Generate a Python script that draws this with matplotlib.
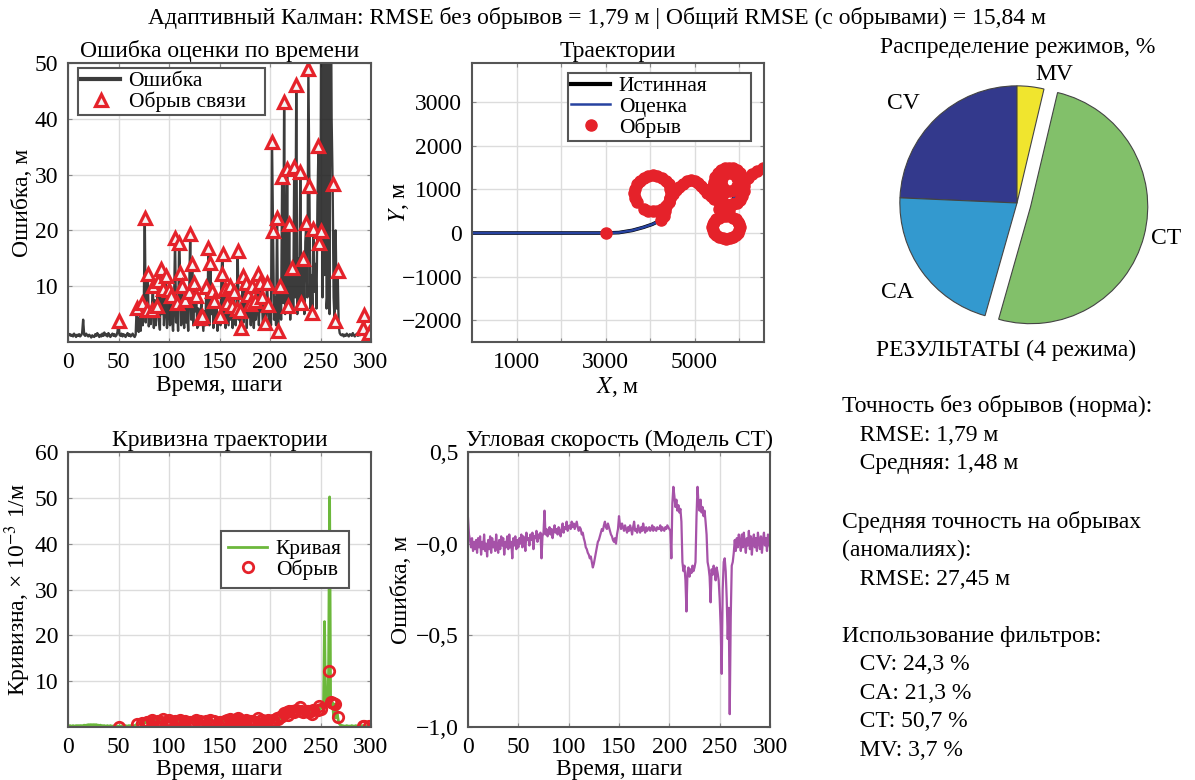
import matplotlib
matplotlib.use('Agg')
import matplotlib.pyplot as plt
import numpy as np

plt.rcParams['font.family'] = ['Liberation Serif', 'DejaVu Serif']
plt.rcParams['mathtext.fontset'] = 'stix'
plt.rcParams['font.size'] = 17

# ---- данные ----
steps = np.arange(301)

err = [
    1.6, 1.2, 1.4, 1.1, 1.3, 1.0, 1.5, 1.2, 0.9, 1.3,
    1.1, 1.4, 1.0, 1.2, 1.6, 4.0, 1.3, 1.1, 1.5, 1.2,
    1.0, 1.3, 1.1, 0.8, 1.2, 1.0, 0.9, 1.4, 1.1, 1.6,
    1.2, 0.9, 1.3, 1.0, 1.5, 1.1, 1.7, 1.2, 1.4, 1.0,
    1.6, 1.2, 0.9, 1.3, 1.5, 1.1, 1.4, 1.0, 1.2, 1.8,
    3.7, 1.3, 1.1, 1.5, 1.0, 1.4, 1.2, 0.9, 1.3, 1.6,
    1.1, 1.4, 1.0, 1.2, 1.5, 1.1, 0.9, 1.3, 6.1, 2.5,
    1.8, 4.5, 2.0, 7.0, 3.0, 5.5, 22.3, 3.5, 5.8, 12.1,
    2.8, 6.0, 3.2, 5.8, 10.0, 2.5, 7.5, 3.0, 6.4, 10.9,
    4.0, 2.2, 13.0, 5.0, 9.5, 3.0, 6.0, 11.8, 2.5, 5.5,
    9.4, 3.0, 8.2, 4.5, 2.0, 6.5, 18.7, 3.5, 7.0, 2.0,
    17.8, 12.4, 3.0, 10.0, 5.0, 2.5, 7.5, 3.5, 6.0, 2.0,
    9.0, 19.3, 4.0, 13.9, 3.0, 10.6, 5.5, 8.2, 2.5, 6.0,
    3.0, 4.3, 7.0, 4.6, 2.0, 5.5, 3.0, 9.8, 4.0, 16.9,
    3.0, 14.2, 5.0, 9.1, 2.5, 7.3, 4.0, 6.5, 2.0, 5.0,
    4.6, 3.0, 12.1, 15.7, 4.5, 9.5, 2.5, 7.0, 5.0, 3.0,
    10.0, 4.0, 6.5, 2.5, 9.0, 5.0, 3.0, 6.0, 16.3, 4.0,
    5.5, 2.5, 6.0, 11.8, 3.5, 7.0, 10.6, 2.5, 8.5, 4.5,
    6.8, 3.0, 10.0, 5.0, 2.5, 7.3, 4.0, 6.0, 12.1, 3.0,
    10.6, 5.5, 8.0, 2.5, 6.5, 3.4, 4.5, 10.6, 6.7, 3.0,
    5.0, 3.0, 35.8, 19.9, 4.0, 8.0, 3.0, 22.3, 1.9, 6.0,
    10.0, 4.0, 29.5, 7.0, 43.0, 5.0, 9.0, 31.0, 6.4, 21.1,
    4.0, 12.0, 13.3, 6.0, 31.3, 8.0, 46.0, 5.0, 15.0, 7.0,
    30.4, 7.0, 10.0, 14.8, 5.0, 18.0, 21.4, 8.0, 49.0, 28.0,
    6.0, 12.0, 5.2, 20.2, 9.0, 14.0, 6.0, 25.0, 35.2, 17.8,
    19.9, 80.0, 8.0, 95.0, 12.0, 90.0, 6.0, 9.0, 88.0, 5.0,
    75.0, 40.0, 28.3, 8.0, 3.7, 20.0, 6.0, 12.7, 3.0, 1.6,
    1.3, 1.2, 1.4, 1.0, 1.3, 1.1, 1.5, 1.2, 1.0, 1.4,
    1.3, 1.1, 1.6, 1.2, 1.0, 1.3, 1.5, 1.1, 1.4, 1.2,
    1.7, 1.3, 2.5, 4.9, 1.5, 2.0, 1.2, 1.4, 1.6, 1.1,
    1.3,
]

outage_steps = [
    50, 68, 73, 76, 78, 79, 83, 84, 88, 89, 92, 94, 97, 100, 102, 106, 108,
    110, 111, 113, 116, 120, 121, 123, 125, 127, 131, 133, 137, 139, 141, 143,
    145, 150, 152, 153, 155, 157, 160, 162, 164, 167, 168, 170, 171, 173, 176,
    178, 180, 182, 185, 188, 190, 192, 195, 197, 198, 202, 203, 207, 208, 210,
    212, 214, 217, 218, 219, 222, 224, 226, 230, 231, 233, 236, 238, 239, 242,
    243, 248, 249, 250, 258, 260, 262, 264, 267, 292, 293, 298,
]

# кривизна, x 10^-3 1/м
curv = [
    0.2, 0.2, 0.3, 0.2, 0.2, 0.3, 0.2, 0.2, 0.3, 0.2,
    0.3, 0.2, 0.3, 0.3, 0.2, 0.3, 0.4, 0.3, 0.4, 0.4,
    0.5, 0.4, 0.5, 0.5, 0.4, 0.5, 0.5, 0.4, 0.5, 0.4,
    0.4, 0.3, 0.4, 0.3, 0.3, 0.2, 0.3, 0.2, 0.2, 0.3,
    0.2, 0.2, 0.3, 0.2, 0.2, 0.2, 0.3, 0.2, 0.2, 0.2,
    0.1, 0.2, 0.2, 0.2, 0.3, 0.2, 0.2, 0.3, 0.2, 0.2,
    0.3, 0.2, 0.3, 0.2, 0.2, 0.3, 0.3, 0.4, 0.6, 0.8,
    0.7, 0.9, 1.1, 0.8, 1.0, 1.2, 0.9, 1.3, 1.0, 1.1,
    1.4, 1.0, 1.2, 1.5, 1.1, 1.3, 1.6, 1.2, 1.0, 1.4,
    1.2, 1.5, 1.1, 1.3, 1.7, 1.2, 1.4, 1.0, 1.6, 1.8,
    1.5, 1.2, 1.0, 1.3, 0.9, 1.1, 1.4, 1.0, 1.2, 0.8,
    1.3, 1.6, 1.1, 1.4, 1.2, 0.9, 1.3, 1.0, 1.5, 1.1,
    0.8, 1.2, 0.9, 1.1, 1.4, 1.0, 1.3, 1.6, 1.2, 1.4,
    1.0, 1.3, 1.5, 1.1, 0.9, 1.2, 1.0, 1.4, 1.1, 0.8,
    1.2, 1.5, 1.1, 1.3, 1.0, 1.4, 1.6, 1.2, 1.0, 1.3,
    1.1, 1.4, 1.2, 1.0, 1.5, 1.3, 1.1, 1.6, 1.2, 1.4,
    1.8, 1.3, 1.5, 1.2, 1.6, 1.4, 1.1, 1.7, 1.9, 1.3,
    1.5, 1.2, 1.6, 1.4, 1.8, 1.3, 1.5, 1.7, 1.2, 1.6,
    1.4, 1.8, 1.3, 1.5, 1.7, 1.2, 1.6, 1.4, 1.9, 1.5,
    1.3, 1.7, 1.5, 1.2, 1.6, 1.4, 1.8, 1.3, 1.5, 1.7,
    1.4, 1.6, 1.3, 1.5, 1.8, 1.6, 1.4, 2.0, 1.7, 1.5,
    2.2, 1.8, 2.5, 1.6, 3.0, 2.4, 2.0, 3.2, 2.6, 3.5,
    2.8, 4.0, 3.6, 4.4, 3.2, 4.2, 3.8, 4.5, 3.4, 3.0,
    4.3, 3.6, 2.8, 3.2, 2.6, 3.0, 3.4, 2.8, 3.6, 3.2,
    3.0, 3.5, 2.9, 3.8, 3.3, 4.0, 3.5, 4.2, 3.8, 4.5,
    4.0, 4.8, 4.4, 5.0, 23.0, 4.6, 5.2, 4.9, 12.2, 50.2,
    5.4, 4.8, 5.3, 2.2, 5.0, 2.0, 5.1, 2.2, 1.0, 0.6,
    0.4, 0.3, 0.3, 0.2, 0.2, 0.2, 0.3, 0.2, 0.2, 0.2,
    0.2, 0.3, 0.2, 0.2, 0.2, 0.3, 0.2, 0.2, 0.2, 0.2,
    0.3, 0.2, 0.3, 0.3, 0.2, 0.3, 0.2, 0.3, 0.2, 0.2,
    0.2,
]

# угловая скорость (модель CT)
omega = [
    0.14, 0.05, 0.02, -0.02, 0.03, -0.04, 0.01, -0.03, 0.02, -0.05,
    0.03, -0.02, 0.04, -0.06, 0.01, -0.03, 0.05, -0.04, 0.00, -0.07,
    0.02, -0.03, 0.04, -0.05, 0.03, -0.02, 0.01, -0.04, 0.05, -0.02,
    -0.05, 0.02, -0.03, 0.04, -0.01, 0.03, -0.06, 0.01, -0.02, 0.04,
    -0.03, 0.05, -0.02, 0.01, -0.08, 0.03, -0.01, 0.04, -0.03, 0.02,
    -0.02, 0.03, 0.00, 0.05, -0.02, 0.04, 0.01, -0.04, 0.06, 0.02,
    0.03, -0.01, 0.05, 0.02, 0.06, -0.03, 0.04, 0.03, 0.07, 0.01,
    0.05, 0.03, 0.06, -0.08, 0.04, 0.06, 0.18, 0.05, 0.08, 0.04,
    0.06, 0.09, 0.05, 0.08, 0.03, 0.07, 0.10, 0.06, 0.08, 0.05,
    0.09, 0.07, 0.04, 0.08, 0.11, 0.06, 0.09, 0.08, 0.12, 0.07,
    0.09, 0.10, 0.08, 0.12, 0.09, 0.11, 0.08, 0.10, 0.12, 0.09,
    0.07, 0.09, 0.08, 0.05, 0.06, 0.03, 0.01, -0.02, -0.03, -0.05,
    -0.06, -0.08, -0.07, -0.10, -0.13, -0.11, -0.08, -0.05, -0.02, 0.01,
    0.02, 0.04, 0.06, 0.08, 0.07, 0.10, 0.12, 0.09, 0.08, 0.11,
    0.09, 0.07, 0.05, 0.04, 0.02, 0.01, 0.03, 0.00, 0.05, 0.08,
    0.15, 0.10, 0.08, 0.11, 0.09, 0.07, 0.10, 0.08, 0.06, 0.09,
    0.07, 0.10, 0.08, 0.05, 0.09, 0.12, 0.07, 0.08, 0.06, 0.10,
    0.08, 0.06, 0.09, 0.07, 0.11, 0.08, 0.06, 0.09, 0.07, 0.08,
    0.09, 0.07, 0.08, 0.10, 0.07, 0.09, 0.08, 0.07, 0.09, 0.08,
    0.08, 0.10, 0.07, 0.09, 0.08, 0.07, 0.09, 0.08, 0.10, 0.09,
    0.08, 0.07, -0.08, 0.22, 0.31, 0.26, 0.20, 0.24, 0.18, 0.21,
    0.17, 0.19, 0.12, -0.10, -0.15, -0.12, -0.20, -0.37, -0.16, -0.13,
    -0.18, -0.14, -0.16, -0.12, -0.15, -0.13, -0.10, 0.15, 0.31, 0.22,
    0.18, 0.24, 0.17, 0.20, 0.15, 0.18, 0.12, 0.05, -0.10, -0.13,
    -0.18, -0.32, -0.14, -0.17, -0.12, -0.15, -0.20, -0.13, -0.16, -0.20,
    -0.30, -0.45, -0.71, -0.25, -0.10, -0.08, -0.15, -0.30, -0.52, -0.35,
    -0.93, -0.40, -0.12, -0.10, -0.05, 0.02, -0.04, 0.03, -0.02, 0.05,
    0.01, -0.04, 0.05, -0.02, 0.06, 0.00, -0.05, 0.03, -0.01, 0.07,
    -0.03, 0.04, -0.06, 0.02, 0.05, -0.02, 0.03, -0.04, 0.06, 0.01,
    -0.03, 0.04, -0.05, 0.02, 0.06, -0.01, 0.03, -0.04, 0.05, 0.00,
    -0.02,
]

# траектория, м
traj_x = [
    0, 500, 1000, 1500, 2000, 2500, 3000, 3300, 3600, 3850, 4050, 4250, 4310, 4340,
    4350, 4415, 4456, 4470, 4456, 4415, 4350, 4265, 4166, 4060, 3954, 3855, 3770,
    3705, 3664, 3650, 3664, 3705, 3770, 3855, 3954, 4060, 4166, 4265, 4350, 4415, 4456,
    4520, 4590, 4660, 4740, 4820, 4910, 5000, 5080, 5150, 5220, 5290, 5360, 5430,
    5523, 5595, 5679, 5770, 5861, 5945, 6017, 6073, 6108, 6120, 6108, 6073, 6017,
    5945, 5861, 5770, 5679, 5595, 5523, 5467, 5432, 5420, 5432, 5467, 5523,
    5590, 5649, 5690, 5790, 5890, 5963, 5990, 5963, 5890, 5790, 5690, 5617, 5590, 5617,
    5640, 5600, 5575, 5560,
    5630, 5555, 5491, 5442, 5411, 5400, 5411, 5442, 5491, 5555, 5630, 5710, 5790,
    5865, 5929, 5978, 6009, 6020, 6009, 5978, 5929, 5865, 5790, 5710,
    5780, 5830, 5880, 5960, 6040, 6110, 6190, 6290, 6400, 6535,
]
traj_y = [
    0, 0, 0, 0, 0, 0, 0, 10, 60, 130, 200, 300, 400, 510,
    620, 705, 804, 910, 1016, 1115, 1200, 1265, 1306, 1320, 1306, 1265, 1200,
    1115, 1016, 910, 804, 705, 620, 555, 514, 500, 514, 555, 620, 705, 804,
    900, 980, 1060, 1130, 1190, 1215, 1200, 1150, 1080, 1000, 920, 840, 780,
    766, 698, 655, 640, 655, 698, 766, 855, 959, 1070, 1181, 1285, 1374,
    1442, 1485, 1500, 1485, 1442, 1374, 1285, 1181, 1070, 959, 855, 766,
    900, 1029, 997, 970, 997, 1070, 1170, 1270, 1343, 1370, 1343, 1270, 1170, 1070,
    900, 780, 660, 540,
    381, 355, 314, 260, 197, 130, 63, 0, -54, -95, -121, -130, -121,
    -95, -54, 0, 63, 130, 197, 260, 314, 355, 381, 390,
    520, 660, 800, 930, 1060, 1170, 1270, 1350, 1420, 1490,
]
traj_first_dot = 6       # одиночный обрыв на прямом участке
traj_loop_start = 11     # начало участка с обрывами
traj_seen = [32, 123, 124, 125]

mode_names = ['CV', 'CA', 'CT', 'MV']
mode_share = [24.3, 21.3, 50.7, 3.7]
mode_colors = ['#33398c', '#3399cf', '#82c06a', '#f0e52e']

RED = '#e5222a'
W, H = 1195, 780


def px_axes(left, top, right, bottom):
    return [left / W, 1 - bottom / H, (right - left) / W, (bottom - top) / H]


def style(ax):
    ax.grid(True, color='#dcdcdc', lw=1)
    ax.set_axisbelow(True)
    for s in ax.spines.values():
        s.set_color('#555555')
        s.set_linewidth(1.5)
    ax.tick_params(direction='in', top=True, right=True, length=3,
                   color='#888888', pad=7, labelsize=17)


def legend_box(ax, pad=0.15, **kw):
    leg = ax.legend(fancybox=False, framealpha=1, edgecolor='#555555',
                    fontsize=15.5, borderpad=pad, labelspacing=0.02,
                    handlelength=1.8, handletextpad=0.4, **kw)
    leg.get_frame().set_linewidth(1.5)
    return leg


fig = plt.figure(figsize=(W / 100, H / 100), dpi=100)
fig.text(0.5, 1 - 18 / H,
         'Адаптивный Калман: RMSE без обрывов = 1,79 м | Общий RMSE (с обрывами) = 15,84 м',
         ha='center', va='center', fontsize=17)

err_a = np.array(err)
curv_a = np.array(curv)

# 1. ошибка оценки
ax1 = fig.add_axes(px_axes(68, 63, 371, 342))
ax1.plot(steps, err_a, color='#1a1a1a', lw=1.7, alpha=0.85, label='Ошибка')
ax1.plot(outage_steps, err_a[outage_steps], ls='none', marker='^', ms=8.5,
         mfc='#f4f4f4', mec=RED, mew=2.3, label='Обрыв связи')
ax1.set_xlim(0, 300)
ax1.set_ylim(0, 50)
ax1.set_xticks(range(0, 301, 50))
ax1.set_yticks([10, 20, 30, 40, 50])
style(ax1)
ax1.set_title('Ошибка оценки по времени', fontsize=17, pad=4)
ax1.set_xlabel('Время, шаги', fontsize=17)
ax1.set_ylabel('Ошибка, м', fontsize=17)
ax1.xaxis.set_label_coords(0.5, -0.118)
ax1.yaxis.set_label_coords(-0.115, 0.5)
leg = legend_box(ax1, loc='upper left', bbox_to_anchor=(0.033, 0.5, 0.617, 0.482),
                 mode='expand', borderaxespad=0)
leg.get_lines()[0].set_linewidth(3)

# 2. траектории
lost = [traj_first_dot] + [i for i in range(traj_loop_start, len(traj_x)) if i not in traj_seen]
tx = np.array(traj_x)
ty = np.array(traj_y)
ax2 = fig.add_axes(px_axes(472, 63, 764, 342))
ax2.plot(tx, ty, color='black', lw=2.6, label='Истинная')
ax2.plot(tx, ty, color='#2743a0', lw=1.8, label='Оценка')
ax2.plot(tx[lost], ty[lost], ls='none', marker='o', ms=8, color=RED, label='Обрыв')
ax2.set_xlim(0, 6560)
ax2.set_ylim(-2500, 3900)
ax2.set_xticks(range(1000, 6001, 1000))
ax2.set_xticklabels(['1000', '', '3000', '', '5000', ''])
ax2.set_yticks(range(-2000, 3001, 1000))
style(ax2)
ax2.set_title('Траектории', fontsize=17, pad=4)
ax2.set_xlabel('$X$, м', fontsize=17)
ax2.set_ylabel('$Y$, м', fontsize=17)
ax2.xaxis.set_label_coords(0.5, -0.118)
ax2.yaxis.set_label_coords(-0.209, 0.5)
leg = legend_box(ax2, loc='upper left', bbox_to_anchor=(0.329, 0.5, 0.627, 0.464),
                 mode='expand', borderaxespad=0)
leg.get_lines()[0].set_linewidth(3)

# 3. кривизна
ax3 = fig.add_axes(px_axes(68, 452, 371, 727))
ax3.plot(steps, curv_a, color='#6cb83c', lw=2, label='Кривая')
ax3.plot(outage_steps, curv_a[outage_steps], ls='none', marker='o', ms=7.5,
         mfc='none', mec=RED, mew=2, label='Обрыв')
ax3.set_xlim(0, 300)
ax3.set_ylim(0, 60)
ax3.set_xticks(range(0, 301, 50))
ax3.set_yticks([10, 20, 30, 40, 50, 60])
style(ax3)
ax3.set_title('Кривизна траектории', fontsize=17, pad=4)
ax3.set_xlabel('Время, шаги', fontsize=17)
ax3.set_ylabel('Кривизна, × 10$^{-3}$ 1/м', fontsize=17)
ax3.xaxis.set_label_coords(0.5, -0.118)
ax3.yaxis.set_label_coords(-0.115, 0.5)
legend_box(ax3, pad=0.35, loc='center', bbox_to_anchor=(0.716, 0.609))

# 4. угловая скорость
ax4 = fig.add_axes(px_axes(468, 452, 770, 727))
ax4.plot(steps, omega, color='#a652a8', lw=1.6)
ax4.set_xlim(0, 300)
ax4.set_ylim(-1.0, 0.5)
ax4.set_xticks(range(0, 301, 50))
ax4.set_yticks([-1.0, -0.5, 0.0, 0.5])
ax4.set_yticklabels(['−1,0', '−0,5', '−0,0', '0,5'])
style(ax4)
ax4.set_title('Угловая скорость (Модель CT)', fontsize=17, pad=4)
ax4.set_xlabel('Время, шаги', fontsize=17)
ax4.set_ylabel('Ошибка, м', fontsize=17)
ax4.xaxis.set_label_coords(0.5, -0.118)
ax4.yaxis.set_label_coords(-0.185, 0.5)

# 5. распределение режимов
ax5 = fig.add_axes(px_axes(853, 39, 1181, 367))
wedges, texts = ax5.pie(mode_share, labels=mode_names, colors=mode_colors, startangle=90,
                        counterclock=True, explode=[0, 0, 0.12, 0], labeldistance=1.2,
                        wedgeprops=dict(edgecolor='#444444', linewidth=0.8),
                        textprops=dict(fontsize=17))
label_pos = [(-0.97, 0.85), (-1.02, -0.76), (1.27, -0.30), (0.32, 1.1)]
for t, p in zip(texts, label_pos):
    t.set_position(p)
    t.set_ha('center')
ax5.set_xlim(-1.4, 1.4)
ax5.set_ylim(-1.4, 1.4)
ax5.set_aspect('equal')
fig.text(1018 / W, 1 - 47 / H, 'Распределение режимов, %', ha='center', va='center', fontsize=17)
fig.text(1006 / W, 1 - 350 / H, 'РЕЗУЛЬТАТЫ (4 режима)', ha='center', va='center', fontsize=17)

# 6. итоговый текст
summary = ('Точность без обрывов (норма):\n'
           '   RMSE: 1,79 м\n'
           '   Средняя: 1,48 м\n'
           '\n'
           'Средняя точность на обрывах\n'
           '(аномалиях):\n'
           '   RMSE: 27,45 м\n'
           '\n'
           'Использование фильтров:\n'
           '   CV: 24,3 %\n'
           '   CA: 21,3 %\n'
           '   CT: 50,7 %\n'
           '   MV: 3,7 %')
fig.text(842 / W, 1 - 395 / H, summary, ha='left', va='top', fontsize=17, linespacing=1.47)

fig.savefig('out.png', dpi=100)
